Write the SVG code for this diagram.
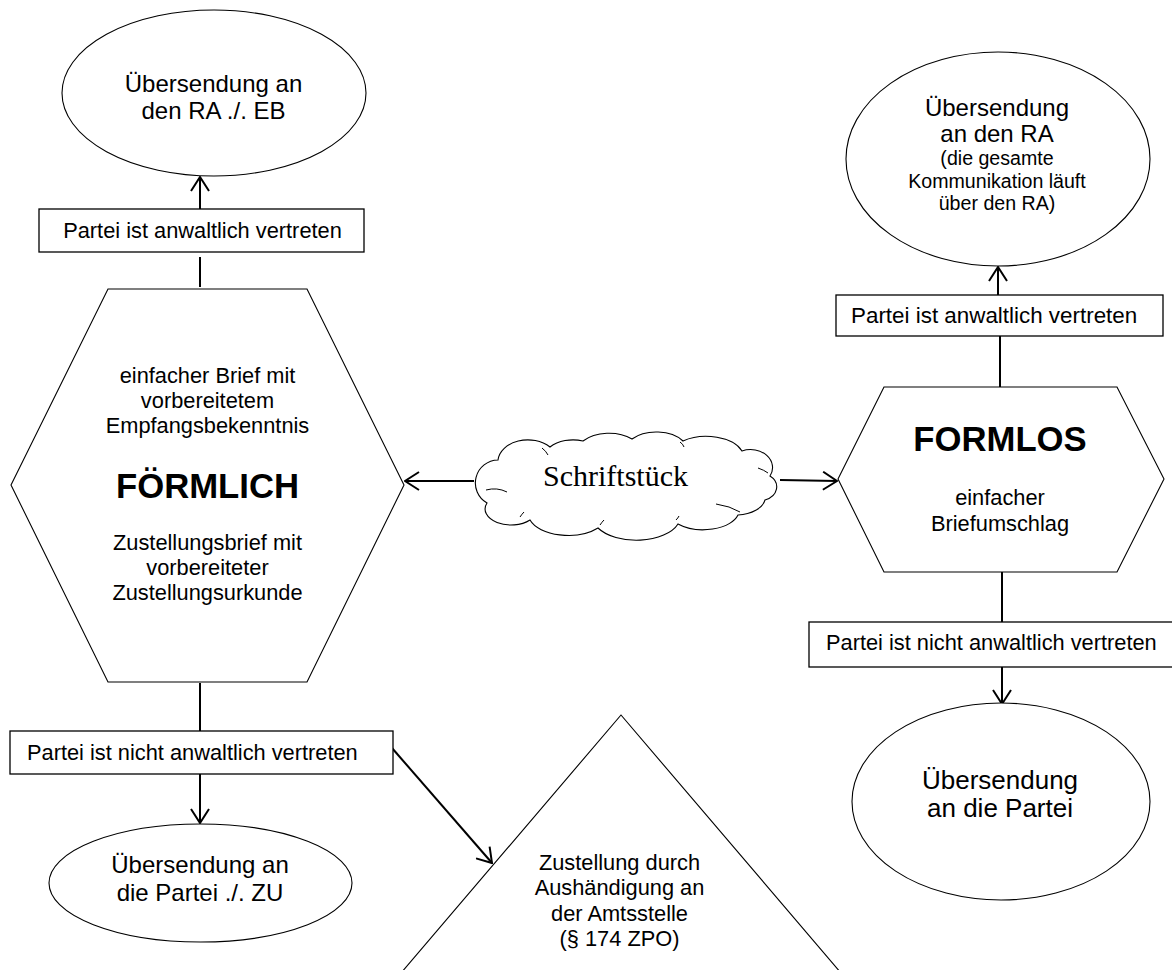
<svg xmlns="http://www.w3.org/2000/svg" width="1172" height="970" viewBox="0 0 1172 970">
<style>
.shape{fill:#fff;stroke:#000;stroke-width:1.1}
.box{fill:#fff;stroke:#000;stroke-width:1.3}
.conn{fill:none;stroke:#000;stroke-width:2}
.t{font-family:"Liberation Sans",Arial,sans-serif;fill:#000;text-anchor:middle}
.b{font-weight:bold;font-size:34.7px}
.m{font-size:21.8px}
.l{font-size:24px}
.s{font-size:19.6px}
</style>
<defs>
<marker id="arr" markerUnits="userSpaceOnUse" viewBox="0 0 16 20" refX="15" refY="10" markerWidth="16" markerHeight="20" orient="auto">
<path d="M1,1 L15,10 L1,19" fill="none" stroke="#000" stroke-width="2"/>
</marker>
</defs>
<rect width="1172" height="970" fill="#fff"/>
<g id="connectors">
<line class="conn" x1="200" y1="209" x2="200" y2="177" marker-end="url(#arr)"/>
<line class="conn" x1="200" y1="287" x2="200" y2="257"/>
<line class="conn" x1="200" y1="683" x2="200" y2="731"/>
<line class="conn" x1="200" y1="774" x2="200" y2="823" marker-end="url(#arr)"/>
<line class="conn" x1="392" y1="748" x2="492" y2="863" marker-end="url(#arr)"/>
<line class="conn" x1="474" y1="481" x2="405" y2="481" marker-end="url(#arr)"/>
<line class="conn" x1="780" y1="480" x2="837" y2="481" marker-end="url(#arr)"/>
<line class="conn" x1="998" y1="295" x2="998" y2="267" marker-end="url(#arr)"/>
<line class="conn" x1="1000" y1="387" x2="1000" y2="336"/>
<line class="conn" x1="1002" y1="572" x2="1002" y2="622"/>
<line class="conn" x1="1002" y1="667" x2="1002" y2="704" marker-end="url(#arr)"/>
</g>
<g id="ell-ra-eb">
<ellipse class="shape" cx="214" cy="93" rx="152" ry="83"/>
<text class="t l" x="213.5" y="92">Übersendung an</text>
<text class="t l" x="213.5" y="119">den RA ./. EB</text>
</g>
<g id="box-left-vertreten">
<rect class="box" x="39" y="209" width="325" height="43"/>
<text class="t m" x="202.5" y="238">Partei ist anwaltlich vertreten</text>
</g>
<g id="hex-foermlich">
<polygon class="shape" points="108,289 307,289 404,485 307,682 108,682 11,485"/>
<text class="t m" x="207.5" y="383">einfacher Brief mit</text>
<text class="t m" x="207.5" y="408">vorbereitetem</text>
<text class="t m" x="207.5" y="433">Empfangsbekenntnis</text>
<text class="t b" x="207.5" y="498">FÖRMLICH</text>
<text class="t m" x="207.5" y="550">Zustellungsbrief mit</text>
<text class="t m" x="207.5" y="575">vorbereiteter</text>
<text class="t m" x="207.5" y="600">Zustellungsurkunde</text>
</g>
<g id="box-left-nicht">
<rect class="box" x="10" y="731" width="383" height="43"/>
<text class="t m" x="27" y="760" style="text-anchor:start">Partei ist nicht anwaltlich vertreten</text>
</g>
<g id="ell-partei-zu">
<ellipse class="shape" cx="200.5" cy="883" rx="151.5" ry="59"/>
<text class="t l" x="200" y="873">Übersendung an</text>
<text class="t l" x="200" y="901">die Partei ./. ZU</text>
</g>
<g id="tri-amtsstelle">
<polygon class="shape" points="621,715 864,1000 378,1000"/>
<text class="t m" x="619.5" y="870">Zustellung durch</text>
<text class="t m" x="619.5" y="895">Aushändigung an</text>
<text class="t m" x="619.5" y="921">der Amtsstelle</text>
<text class="t m" x="619.5" y="946">(§ 174 ZPO)</text>
</g>
<g id="cloud-schriftstueck">
<path class="shape" d="M487,503 A23,23 0 0 1 498,460 A30,22 0 0 1 550,447 A30,20 0 0 1 583,441 A34,22 0 0 1 632,439 A32,20 0 0 1 683,441 A38,22 0 0 1 742,451 A22,18 0 0 1 770,476 A18,14 0 0 1 765,500 A30,18 0 0 1 738,515 A36,20 0 0 1 678,524 A44,24 0 0 1 598,528 A40,22 0 0 1 530,520 A26,16 0 0 1 487,503 Z"/>
<path class="conn" style="stroke-width:1" d="M486,490 Q497,487 507,492 M542,448 Q546,451 548,455 M680,442 Q683,444 684,447 M758,468 Q764,470 768,473 M716,504 Q730,506 740,512 M676,520 Q678,518 679,516 M600,525 Q602,522 604,520 M520,517 Q522,514 524,512"/>
<text class="t" x="615.5" y="486" style="font-family:'Liberation Serif','Times New Roman',serif;font-size:30px">Schriftstück</text>
</g>
<g id="ell-ra">
<ellipse class="shape" cx="998" cy="159" rx="152" ry="107"/>
<text class="t l" x="997" y="116">Übersendung</text>
<text class="t l" x="997" y="142">an den RA</text>
<text class="t s" x="997" y="165">(die gesamte</text>
<text class="t s" x="997" y="188">Kommunikation läuft</text>
<text class="t s" x="997" y="210">über den RA)</text>
</g>
<g id="box-right-vertreten">
<rect class="box" x="836" y="295" width="327" height="41"/>
<text class="t m" x="851" y="323" style="text-anchor:start;font-size:22.4px">Partei ist anwaltlich vertreten</text>
</g>
<g id="hex-formlos">
<polygon class="shape" points="884,387 1117,387 1164,479 1117,572 884,572 838,479"/>
<text class="t b" x="1000" y="451">FORMLOS</text>
<text class="t m" x="1000" y="505">einfacher</text>
<text class="t m" x="1000" y="531">Briefumschlag</text>
</g>
<g id="box-right-nicht">
<rect class="box" x="809" y="622" width="370" height="45"/>
<text class="t m" x="826" y="650" style="text-anchor:start">Partei ist nicht anwaltlich vertreten</text>
</g>
<g id="ell-partei">
<ellipse class="shape" cx="1001" cy="801.5" rx="149" ry="98.5"/>
<text class="t" x="1000" y="789" style="font-size:26px">Übersendung</text>
<text class="t" x="1000" y="817" style="font-size:26px">an die Partei</text>
</g>
</svg>
